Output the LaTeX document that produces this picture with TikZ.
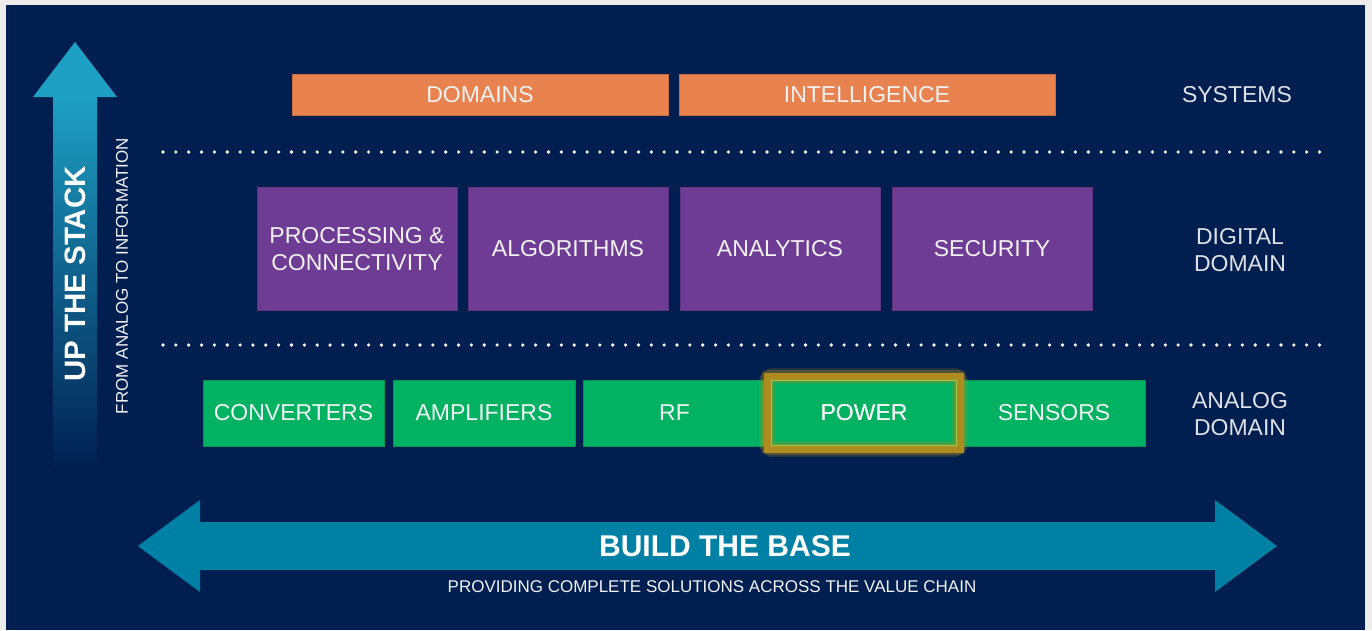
\documentclass[tikz,border=0pt]{standalone}
\usepackage{fontspec}
\setmainfont{Liberation Sans}
\definecolor{navy}{RGB}{0,30,80}
\definecolor{frame}{RGB}{236,236,236}
\definecolor{sysorange}{RGB}{232,131,79}
\definecolor{digpurple}{RGB}{110,60,148}
\definecolor{anagreen}{RGB}{0,178,98}
\definecolor{baseteal}{RGB}{0,128,164}
\definecolor{stackteal}{RGB}{30,160,196}
\definecolor{hilite}{RGB}{172,140,30}
\definecolor{txt}{RGB}{242,242,242}
\begin{document}
\begin{tikzpicture}[x=1pt,y=-1pt,
  lbl/.style={text=txt,font=\fontsize{23}{27}\selectfont,align=center,inner sep=0pt},
  blk/.style={lbl,minimum height=#1,outer sep=0pt},
  sysbox/.style={blk=41,fill=sysorange,draw=sysorange!85!black,line width=0.8pt,minimum width=376},
  digbox/.style={blk=123,fill=digpurple,draw=digpurple!85!black,line width=0.8pt,minimum width=200},
  anabox/.style={blk=66,fill=anagreen,draw=anagreen!85!black,line width=0.8pt},
  sidelbl/.style={lbl,text=txt!92!navy},
  dotline/.style={white,line width=3.6pt,line cap=round,dash pattern=on 0pt off 12.85pt}]

% frame and panel
\fill[frame] (0,0) rectangle (1372,630);
\fill[navy] (6,5) rectangle (1365,630);
\useasboundingbox (0,0) rectangle (1372,630);

% "up the stack" arrow
\shade[top color=stackteal,bottom color=navy] (53,96) rectangle (97,472);
\fill[stackteal] (33,97) -- (75,42) -- (117,97) -- cycle;
\node[rotate=90,text=white,font=\bfseries\fontsize{29.5}{29}\selectfont] (up) at (75,274) {UP THE STACK};
\node[rotate=90,text=txt,font=\fontsize{17}{17}\selectfont] (upsub) at (122,276) {FROM ANALOG TO INFORMATION};

% layer separators
\coordinate (d1a) at (163,152); \coordinate (d1b) at (1320,152);
\coordinate (d2a) at (163,345); \coordinate (d2b) at (1320,345);
\draw[dotline] (d1a) -- (d1b);
\draw[dotline] (d2a) -- (d2b);

% systems layer
\node[sysbox] (domains) at (480,95) {DOMAINS};
\node[sysbox] (intel) at (867,95) {INTELLIGENCE};
\node[sidelbl] (systems) at (1237,95) {SYSTEMS};

% digital layer
\node[digbox] (proc) at (357,249) {PROCESSING \&\\CONNECTIVITY};
\node[digbox] (algo) at (568,249) {ALGORITHMS};
\node[digbox] (anal) at (780,249) {ANALYTICS};
\node[digbox] (sec) at (992,249) {SECURITY};
\node[sidelbl] (digital) at (1240,250) {DIGITAL\\DOMAIN};

% analog layer
\node[anabox,minimum width=181] (conv) at (293.5,413) {CONVERTERS};
\node[anabox,minimum width=182] (amp) at (484,413) {AMPLIFIERS};
\node[anabox,minimum width=183] (rf) at (674.5,413) {RF};
\node[anabox,minimum width=198,draw=none] (power) at (864,413) {POWER};
\node[anabox,minimum width=183] (sens) at (1054,413) {SENSORS};
\node[sidelbl] (analog) at (1240,414) {ANALOG\\DOMAIN};

% highlight round the power block
\draw[hilite,opacity=0.2,line width=16pt,rounded corners=5pt] (767,376) rectangle (960,449);
\draw[hilite,opacity=0.35,line width=12pt,rounded corners=3pt] (767,376) rectangle (960,449);
\draw[hilite,line width=7pt] (767,376) rectangle (960,449);
\draw[yellow!60!anagreen,line width=0.8pt] (771,380) rectangle (956,445);
\node[lbl] at (power.center) {POWER};

% "build the base" arrow
\fill[baseteal] (138,546) -- (200,500) -- (200,522) -- (1215,522) -- (1215,500)
  -- (1277,546) -- (1215,592) -- (1215,570) -- (200,570) -- (200,592) -- cycle;
\node[text=white,font=\bfseries\fontsize{30}{30}\selectfont] (base) at (725,546) {BUILD THE BASE};
\node[text=txt,font=\fontsize{17}{17}\selectfont] (basesub) at (712,587) {PROVIDING COMPLETE SOLUTIONS ACROSS THE VALUE CHAIN};
\end{tikzpicture}
\end{document}
